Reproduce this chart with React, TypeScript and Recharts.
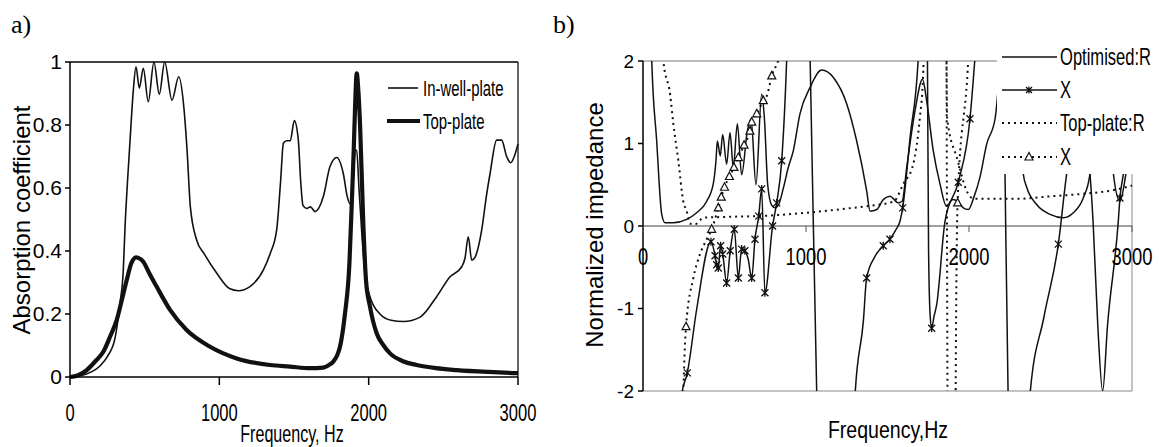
import React from 'react'
import { LineChart, Line, XAxis, YAxis, ReferenceLine, Legend } from 'recharts'

// ---- a) absorption coefficient ----
const inWellFreq = [0, 100, 200, 250, 300, 335, 357, 368, 385, 402, 424, 442, 464, 491, 524, 562, 598, 634, 683, 728, 762, 784, 806, 848, 900, 982, 1071, 1127, 1205, 1295, 1339, 1384, 1410, 1429, 1451, 1475, 1502, 1529, 1545, 1560, 1585, 1610, 1641, 1696, 1741, 1786, 1830, 1857, 1875, 1895, 1910, 1920, 1935, 1955, 1975, 2009, 2076, 2150, 2232, 2344, 2455, 2545, 2623, 2645, 2667, 2690, 2712, 2757, 2790, 2813, 2857, 2890, 2924, 2951, 2975, 3000]
const inWellAlpha = [0, 0.008, 0.035, 0.065, 0.12, 0.235, 0.34, 0.47, 0.62, 0.75, 0.91, 0.985, 0.917, 0.98, 0.874, 1.0, 0.898, 1.0, 0.879, 0.953, 0.858, 0.72, 0.54, 0.435, 0.39, 0.33, 0.28, 0.274, 0.287, 0.34, 0.39, 0.467, 0.62, 0.742, 0.75, 0.75, 0.814, 0.752, 0.62, 0.545, 0.535, 0.54, 0.525, 0.572, 0.668, 0.697, 0.646, 0.572, 0.55, 0.62, 0.72, 0.72, 0.6, 0.45, 0.33, 0.255, 0.2, 0.18, 0.176, 0.19, 0.255, 0.318, 0.35, 0.377, 0.445, 0.371, 0.38, 0.467, 0.58, 0.646, 0.752, 0.752, 0.7, 0.68, 0.7, 0.74]

const topFreq = [0, 50, 112, 170, 223, 270, 313, 350, 380, 410, 442, 470, 491, 530, 580, 670, 781, 938, 1116, 1339, 1473, 1607, 1696, 1740, 1763, 1790, 1808, 1841, 1871, 1886, 1900, 1909, 1920, 1932, 1942, 1964, 1982, 2009, 2054, 2100, 2143, 2230, 2321, 2450, 2589, 2800, 3000]
const topAlpha = [0, 0.005, 0.022, 0.05, 0.08, 0.13, 0.181, 0.25, 0.308, 0.36, 0.38, 0.375, 0.366, 0.33, 0.287, 0.213, 0.149, 0.096, 0.059, 0.038, 0.033, 0.028, 0.03, 0.04, 0.049, 0.07, 0.096, 0.2, 0.36, 0.54, 0.72, 0.858, 0.964, 0.9, 0.805, 0.488, 0.308, 0.223, 0.138, 0.1, 0.075, 0.05, 0.038, 0.028, 0.022, 0.016, 0.012]

// ---- b) normalized impedance ----
const optRFreq = [0, 53, 84, 115, 135, 186, 268, 329, 391, 431, 448, 456, 474, 489, 513, 534, 554, 579, 605, 640, 663, 693, 728, 745, 765, 790, 810, 830, 860, 890, 922, 963, 1025, 1096, 1168, 1250, 1311, 1372, 1393, 1434, 1474, 1515, 1566, 1590, 1618, 1669, 1715, 1740, 1781, 1822, 1862, 1900, 1930, 1965, 1996, 2030, 2067, 2108, 2160, 2220, 2290, 2333, 2354, 2415, 2497, 2579, 2640, 2701, 2742, 2790, 2850, 2886, 2926, 2960, 3000]
const optRVal = [9, 2.05, 1.03, 0.14, 0.04, 0.04, 0.08, 0.16, 0.3, 0.51, 0.8, 1.03, 0.85, 1.11, 0.75, 1.13, 0.71, 1.24, 0.62, 1.15, 1.3, 0.5, 1.6, 1.3, 0.5, 0.25, 0.22, 0.25, 0.45, 0.7, 0.91, 1.36, 1.68, 1.89, 1.8, 1.48, 1.03, 0.43, 0.18, 0.2, 0.32, 0.36, 0.28, 0.3, 0.71, 1.4, 1.78, 1.52, 0.91, 0.51, 0.24, 0.32, 0.3, 0.22, 0.2, 0.35, 0.59, 0.99, 1.3, 2.4, 2.4, 0.63, 0.47, 0.26, 0.14, 0.1, 0.16, 0.34, 0.63, 2.5, 2.5, 0.63, 0.3, 0.6, 1.2]

const optXFreq = [200, 237, 272, 330, 417, 442, 452, 462, 476, 489, 513, 535, 560, 585, 605, 625, 645, 667, 687, 710, 728, 748, 795, 820, 851, 882, 920, 990, 1025, 1066, 1110, 1270, 1301, 1352, 1372, 1420, 1474, 1515, 1550, 1577, 1593, 1640, 1689, 1710, 1735, 1745, 1752, 1762, 1771, 1785, 1802, 1853, 1934, 2006, 2037, 2100, 2200, 2221, 2240, 2300, 2374, 2460, 2548, 2599, 2670, 2742, 2761, 2790, 2820, 2850, 2916, 2926, 2947, 3000]
const optXVal = [-5, -2.05, -1.78, -1.0, -0.19, -0.36, -0.47, -0.51, -0.24, -0.34, -0.69, -0.3, -0.04, -0.63, -0.28, -0.3, -0.4, -0.63, -0.16, 0.12, 0.45, -0.81, 0, 0.28, 0.79, 2.05, 5, 5, 2.05, -2.05, -5, -5, -2.05, -1.15, -0.63, -0.38, -0.24, -0.16, -0.05, 0.06, 0.22, 1.1, 2.05, 4, 4, 2.05, -0.3, -1.1, -1.24, -1.1, -0.95, 0.06, 0.53, 1.3, 2.05, 4, 4, 0.63, -2.05, -5, -2.05, -1.1, -0.22, 0.63, 1.4, 0.63, 0.06, -1.2, -2.0, -1.2, 0.06, 0.34, 0.63, 1.5]
const optXMark = [0, 0, 1, 0, 1, 1, 1, 1, 1, 1, 1, 1, 1, 1, 1, 1, 0, 1, 1, 1, 1, 1, 1, 1, 1, 0, 0, 0, 0, 0, 0, 0, 0, 0, 1, 0, 1, 1, 0, 0, 1, 0, 0, 0, 0, 0, 0, 0, 1, 0, 0, 0, 1, 1, 0, 0, 0, 0, 0, 0, 0, 0, 1, 0, 0, 0, 0, 0, 0, 0, 0, 1, 0, 0]

const topRFreq = [0, 100, 125, 166, 186, 217, 247, 268, 288, 320, 345, 370, 500, 700, 882, 1000, 1200, 1372, 1450, 1540, 1597, 1658, 1699, 1716, 1730, 1780, 1845, 1860, 1866, 1930, 1985, 2030, 2300, 2500, 2700, 2900, 3000]
const topRVal = [20, 4, 2.0, 1.6, 1.24, 0.79, 0.3, 0.18, 0.03, 0.02, 0.06, 0.1, 0.11, 0.12, 0.14, 0.16, 0.2, 0.24, 0.26, 0.3, 0.51, 0.75, 1.32, 1.72, 2.5, 6, 6, 2.5, 1.3, 0.8, 0.43, 0.33, 0.33, 0.36, 0.39, 0.44, 0.49]

const topXFreq = [220, 247, 264, 309, 350, 391, 421, 462, 480, 500, 530, 558, 585, 620, 656, 667, 698, 738, 760, 790, 840, 900, 1855, 1862, 1868, 1880, 1910, 1918, 1930, 1996, 2050, 3000]
const topXVal = [-5, -2.05, -1.22, -0.63, -0.34, -0.16, -0.04, 0.22, 0.35, 0.47, 0.6, 0.71, 0.83, 0.98, 1.15, 1.26, 1.36, 1.52, 1.58, 1.82, 2.1, 3.5, 6, 2.05, -2.05, -6, -6, -2.05, 0.28, 2.05, 5, 8]
const topXMark = [0, 0, 1, 0, 0, 0, 1, 1, 1, 1, 1, 1, 1, 1, 1, 1, 1, 1, 0, 1, 0, 0, 0, 0, 0, 0, 0, 0, 1, 0, 0, 0]

const freqTicks = [0, 1000, 2000, 3000]
const alphaTicks = [0, 0.2, 0.4, 0.6, 0.8, 1]
const impTicks = [-2, -1, 0, 1, 2]

const SANS = '"Liberation Sans", Arial, sans-serif'
const SERIF = '"Liberation Serif", "Times New Roman", serif'
const INK = '#111'
const DOTS = '2 4'

// panel b plot box (chart coords)
const B_TOP = 61
const B_H = 330
const B_ZERO = B_TOP + B_H / 2

const rows = (f: number[], v: number[], m?: number[]) =>
  f.map((x, i) => ({ f: x, v: v[i], m: m ? m[i] : 0 }))

const inWell = rows(inWellFreq, inWellAlpha)
const topPlate = rows(topFreq, topAlpha)
const optR = rows(optRFreq, optRVal)
const optX = rows(optXFreq, optXVal, optXMark)
const topR = rows(topRFreq, topRVal)
const topX = rows(topXFreq, topXVal, topXMark)

const starPath = (x: number, y: number, s = 3.5) =>
  `M${x - s},${y - s}L${x + s},${y + s}M${x - s},${y + s}L${x + s},${y - s}M${x},${y - s - 0.5}L${x},${y + s + 0.5}`
const triPath = (x: number, y: number) => `M${x},${y - 4.5}L${x + 4},${y + 3}L${x - 4},${y + 3}Z`

const StarDot = (p: any) => {
  const { cx, cy, payload, index } = p
  if (!payload || !payload.m || cx == null || cy == null) return <g key={`s${index}`} />
  return <path key={`s${index}`} d={starPath(cx, cy)} stroke={INK} strokeWidth={1.3} fill="none" />
}

const TriDot = (p: any) => {
  const { cx, cy, payload, index } = p
  if (!payload || !payload.m || cx == null || cy == null) return <g key={`t${index}`} />
  return <path key={`t${index}`} d={triPath(cx, cy)} stroke={INK} strokeWidth={1.2} fill="#fff" />
}

const FreqTickA = (p: any) => (
  <text
    transform={`translate(${p.x},${p.y + 36}) scale(0.72,1)`}
    textAnchor="middle"
    fontSize={23}
    fontFamily={SANS}
    fill="#000"
  >
    {p.payload.value}
  </text>
)

// x axis of b) crosses at zero, labels sit under that line
const FreqTickB = (p: any) => (
  <g>
    <line x1={p.x} x2={p.x} y1={B_ZERO} y2={B_ZERO + 6} stroke="#555" strokeWidth={1} />
    <text
      transform={`translate(${p.x},${B_ZERO + 39}) scale(0.8,1)`}
      textAnchor="middle"
      fontSize={23}
      fontFamily={SANS}
      fill="#000"
    >
      {p.payload.value}
    </text>
  </g>
)

const LegendA = () => (
  <svg width={140} height={62} style={{ display: 'block' }}>
    <line x1={3} x2={33} y1={14} y2={14} stroke={INK} strokeWidth={1.6} />
    <text transform="translate(38,22) scale(0.68,1)" fontSize={22} fontFamily={SANS} fill="#000">
      In-well-plate
    </text>
    <line x1={2} x2={35} y1={47} y2={47} stroke={INK} strokeWidth={4} />
    <text transform="translate(38,55) scale(0.68,1)" fontSize={22} fontFamily={SANS} fill="#000">
      Top-plate
    </text>
  </svg>
)

const LegendB = () => {
  const items = [
    { label: 'Optimised:R', dash: undefined, mark: '' },
    { label: 'X', dash: undefined, mark: 'star' },
    { label: 'Top-plate:R', dash: DOTS, mark: '' },
    { label: 'X', dash: DOTS, mark: 'tri' },
  ]
  const ys = [14, 47, 80, 114]
  return (
    <svg width={160} height={131} style={{ display: 'block', background: '#fff' }}>
      {items.map((it, i) => (
        <g key={i}>
          <line x1={5} x2={60} y1={ys[i]} y2={ys[i]} stroke={INK} strokeWidth={it.dash ? 2 : 1.5} strokeDasharray={it.dash} />
          {it.mark === 'star' && <path d={starPath(32, ys[i], 3)} stroke={INK} strokeWidth={1.3} fill="none" />}
          {it.mark === 'tri' && <path d={triPath(32, ys[i])} stroke={INK} strokeWidth={1.2} fill="#fff" />}
          <text transform={`translate(63,${ys[i] + 8}) scale(0.72,1)`} fontSize={23} fontFamily={SANS} fill="#000">
            {it.label}
          </text>
        </g>
      ))}
    </svg>
  )
}

export default function App() {
  return (
    <div style={{ position: 'absolute', left: 0, top: 0, width: 1159, height: 447, background: '#fff', overflow: 'hidden' }}>
      <div style={{ position: 'absolute', left: 0, top: 0 }}>
        <LineChart width={560} height={447} margin={{ top: 62, right: 42, bottom: 0, left: 0 }}>
          <XAxis
            dataKey="f"
            type="number"
            domain={[0, 3000]}
            ticks={freqTicks}
            interval={0}
            height={70}
            tickSize={8}
            tickMargin={0}
            stroke="#000"
            strokeWidth={1.5}
            tick={FreqTickA}
          />
          <YAxis
            type="number"
            domain={[0, 1]}
            ticks={alphaTicks}
            interval={0}
            width={70}
            tickSize={5}
            tickMargin={3}
            stroke="#000"
            strokeWidth={1.5}
            tick={{ fontSize: 21, fill: '#000', fontFamily: SANS }}
            tickFormatter={(v: number) => String(v)}
          />
          <ReferenceLine y={1} stroke="#000" strokeWidth={1.5} />
          <ReferenceLine x={3000} stroke="#000" strokeWidth={1.2} />
          <Line data={inWell} dataKey="v" type="monotone" stroke={INK} strokeWidth={1.6} dot={false} isAnimationActive={false} />
          <Line data={topPlate} dataKey="v" type="monotone" stroke={INK} strokeWidth={4.2} dot={false} isAnimationActive={false} />
          <Legend
            layout="vertical"
            align="center"
            verticalAlign="middle"
            content={() => <LegendA />}
            wrapperStyle={{ left: 385, top: 74, width: 140, height: 62 }}
          />
        </LineChart>
      </div>

      <div style={{ position: 'absolute', left: 560, top: 0 }}>
        <LineChart width={599} height={447} margin={{ top: B_TOP, right: 27, bottom: 0, left: 0 }}>
          <XAxis
            dataKey="f"
            type="number"
            domain={[0, 3000]}
            ticks={freqTicks}
            interval={0}
            height={447 - B_TOP - B_H}
            axisLine={false}
            tickLine={false}
            tickSize={0}
            tickMargin={0}
            tick={FreqTickB}
            allowDataOverflow
          />
          <YAxis
            type="number"
            domain={[-2, 2]}
            ticks={impTicks}
            interval={0}
            width={83}
            tickSize={5}
            tickMargin={4}
            stroke="#000"
            strokeWidth={1.5}
            tick={{ fontSize: 19, fill: '#000', fontFamily: SANS }}
            allowDataOverflow
          />
          <ReferenceLine y={2} stroke="#777" strokeWidth={1} />
          <ReferenceLine y={-2} stroke="#888" strokeWidth={1} />
          <ReferenceLine x={3000} stroke="#888" strokeWidth={1} />
          <ReferenceLine y={0} stroke="#444" strokeWidth={1.2} />
          <Line data={topR} dataKey="v" type="monotone" stroke={INK} strokeWidth={2} strokeDasharray={DOTS} dot={false} isAnimationActive={false} />
          <Line data={topX} dataKey="v" type="monotone" stroke={INK} strokeWidth={2} strokeDasharray={DOTS} dot={TriDot} isAnimationActive={false} />
          <Line data={optR} dataKey="v" type="monotone" stroke={INK} strokeWidth={1.5} dot={false} isAnimationActive={false} />
          <Line data={optX} dataKey="v" type="monotone" stroke={INK} strokeWidth={1.5} dot={StarDot} isAnimationActive={false} />
          <Legend
            layout="vertical"
            align="center"
            verticalAlign="middle"
            content={() => <LegendB />}
            wrapperStyle={{ left: 437, top: 43, width: 160, height: 131, background: '#fff' }}
          />
        </LineChart>
      </div>

      <svg width={1159} height={447} style={{ position: 'absolute', left: 0, top: 0, pointerEvents: 'none' }}>
        <text x={11} y={33} fontSize={26} fontFamily={SERIF} fill="#000">a)</text>
        <text x={553} y={33} fontSize={26} fontFamily={SERIF} fill="#000">b)</text>
        <text transform="translate(30,220) rotate(-90)" textAnchor="middle" fontSize={24} fontFamily={SANS} fill="#000">
          Absorption coefficient
        </text>
        <text transform="translate(292,442) scale(0.7,1)" textAnchor="middle" fontSize={23} fontFamily={SANS} fill="#000">
          Frequency, Hz
        </text>
        <text transform="translate(603,225) rotate(-90)" textAnchor="middle" fontSize={24} fontFamily={SANS} fill="#000">
          Normalized impedance
        </text>
        <text transform="translate(888,438) scale(0.85,1)" textAnchor="middle" fontSize={23} fontFamily={SANS} fill="#000">
          Frequency,Hz
        </text>
      </svg>
    </div>
  )
}
